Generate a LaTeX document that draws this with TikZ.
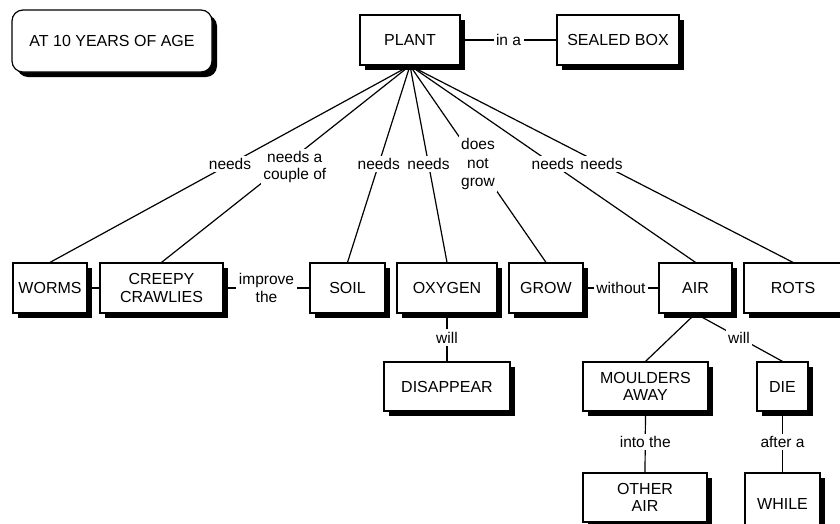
\documentclass[tikz,border=0pt]{standalone}
\usepackage{fontspec}
\setmainfont{Liberation Sans}
\usetikzlibrary{shadows}
\begin{document}
\begin{tikzpicture}[x=1pt,y=-1pt,
  box/.style={draw, line width=1.2pt, fill=white, align=center, inner sep=0pt,
    font=\fontsize{16}{17.5}\selectfont,
    drop shadow={shadow xshift=5pt, shadow yshift=-5pt, fill=black, opacity=1}},
  lbl/.style={fill=white, align=center, inner sep=2.5pt,
    font=\fontsize{15.5}{17.5}\selectfont},
  link/.style={line width=1.2pt}]
\useasboundingbox (0,0) rectangle (840,523);
\clip (0,0) rectangle (840,523);

% title
\node[box, rounded corners=11pt, minimum width=200pt, minimum height=62pt] (age) at (112,41) {AT 10 YEARS OF AGE};

% top row
\node[box, minimum width=100pt, minimum height=50pt] (plant)  at (410,40)  {PLANT};
\node[box, minimum width=122pt, minimum height=50pt] (sealed) at (618,40)  {SEALED BOX};

% middle row
\node[box, minimum width=74pt,  minimum height=50pt] (worms)  at (50,288)    {WORMS};
\node[box, minimum width=123pt, minimum height=50pt] (creepy) at (161.5,288) {CREEPY\\CRAWLIES};
\node[box, minimum width=75pt,  minimum height=50pt] (soil)   at (347.5,288) {SOIL};
\node[box, minimum width=100pt, minimum height=50pt] (oxygen) at (447,288)   {OXYGEN};
\node[box, minimum width=74pt,  minimum height=50pt] (grow)   at (546,288)   {GROW};
\node[box, minimum width=73pt,  minimum height=50pt] (air)    at (695.5,288) {AIR};
\node[box, minimum width=98pt,  minimum height=50pt] (rots)   at (793,288)   {ROTS};

% lower rows
\node[box, minimum width=126pt, minimum height=49pt] (disappear) at (447,386.5)   {DISAPPEAR};
\node[box, minimum width=125pt, minimum height=49pt] (moulders)  at (645.5,386.5) {MOULDERS\\AWAY};
\node[box, minimum width=51pt,  minimum height=49pt] (die)       at (782.5,386.5) {DIE};
\node[box, minimum width=124pt, minimum height=49pt] (otherair)  at (645,497.5)   {OTHER\\AIR};
\node[box, minimum width=75pt,  minimum height=62pt] (while)     at (782.5,504)   {WHILE};

% links
\draw[link] (plant.east) -- node[lbl] {in a} (sealed.west);

\draw[link] (plant.south) -- node[lbl] {needs} (worms.north);
\draw[link] (plant.south) -- node[lbl, xshift=9pt, yshift=-3pt] {needs a\\couple of} (creepy.north);
\draw[link] (plant.south) -- node[lbl] {needs} (soil.north);
\draw[link] (plant.south) -- node[lbl] {needs} (oxygen.north);
\draw[link] (plant.south) -- node[lbl, font=\fontsize{15.5}{18.5}\selectfont] {does\\not\\grow} (grow.north);
\draw[link] (plant.south) -- node[lbl] {needs} (air.north);
\draw[link] (plant.south) -- node[lbl] {needs} (rots.north);

\draw[link] (worms.east) -- (creepy.west);
\draw[link] (creepy.east) -- node[lbl] {improve\\the} (soil.west);
\draw[link] (grow.east) -- node[lbl] {without} (air.west);

\draw[link] (oxygen.south) -- node[lbl] {will} (disappear.north);
\draw[link] (air.south) -- (moulders.north);
\draw[link] (air.south) -- node[lbl] {will} (die.north);
\draw[link] (moulders.south) -- node[lbl] {into the} (otherair.north);
\draw[link] (die.south) -- node[lbl] {after a} (while.north);
\end{tikzpicture}
\end{document}
